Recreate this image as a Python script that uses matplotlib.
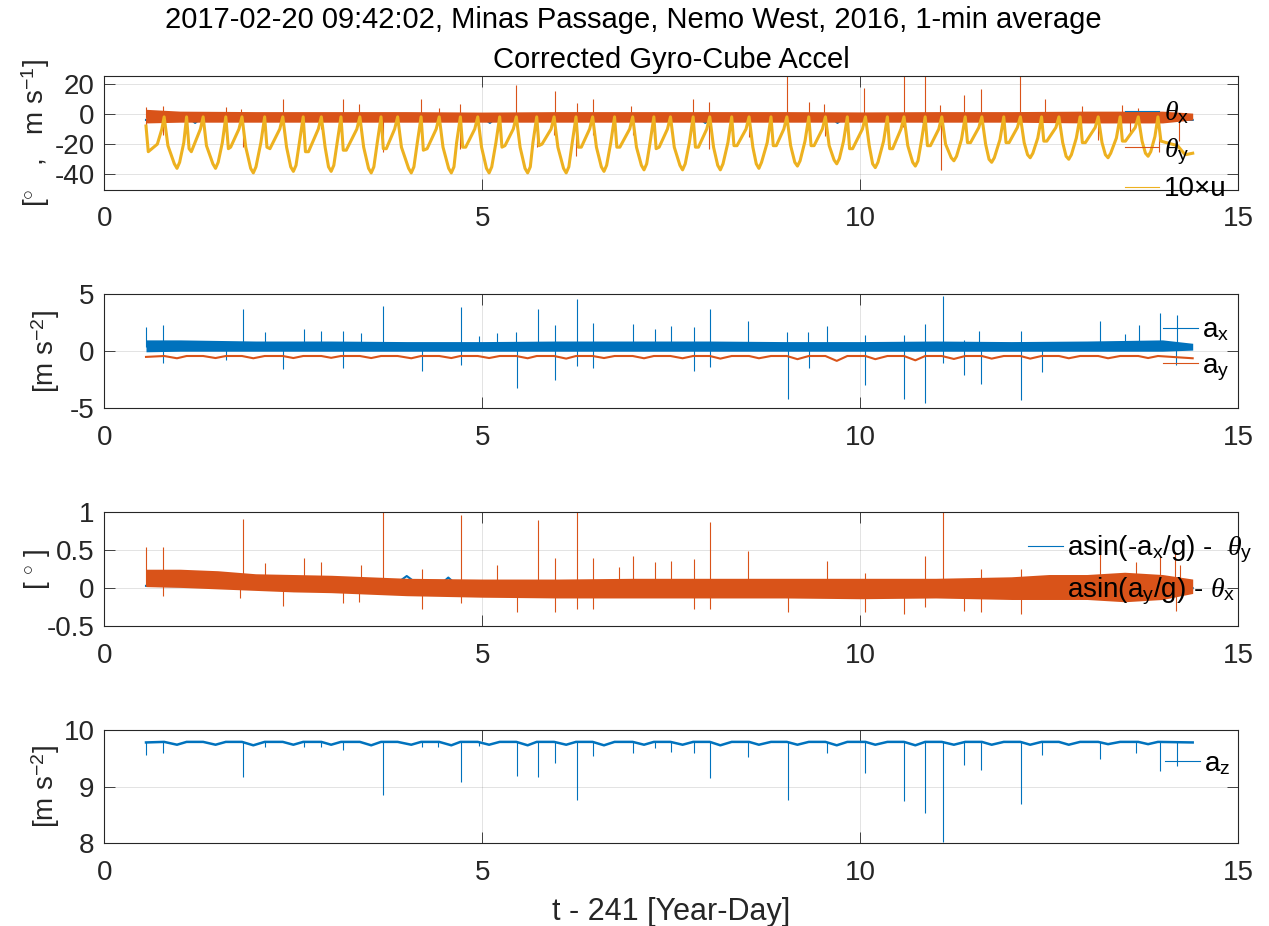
import numpy as np
import matplotlib
matplotlib.use("Agg")
import matplotlib.pyplot as plt
from matplotlib.lines import Line2D

plt.rcParams['font.family'] = ['Liberation Sans', 'DejaVu Sans']
plt.rcParams['mathtext.fontset'] = 'custom'
plt.rcParams['mathtext.rm'] = 'Liberation Sans'
plt.rcParams['mathtext.it'] = 'Liberation Serif:italic'
plt.rcParams['mathtext.bf'] = 'Liberation Sans:bold'
plt.rcParams['axes.unicode_minus'] = False

BLUE = '#0072BD'
ORANGE = '#D95319'
YELLOW = '#EDB120'
INK = '#262626'

# ---------------- data (t - 241, year-day) ----------------
t_start, t_end = 0.55, 14.40

# slack-water times (peaks of 10*u) and ebb-trough times
slack_t = [0.79, 1.087, 1.306, 1.606, 1.82, 2.12, 2.36, 2.63, 2.87, 3.13,
           3.38, 3.66, 3.88, 4.19, 4.43, 4.71, 4.94, 5.23, 5.45, 5.72,
           5.95, 6.24, 6.46, 6.75, 6.99, 7.27, 7.49, 7.79, 8.01, 8.30,
           8.53, 8.82, 9.03, 9.32, 9.54, 9.83, 10.07, 10.36, 10.58, 10.86,
           11.08, 11.39, 11.61, 11.90, 12.12, 12.40, 12.63, 12.91, 13.15, 13.44,
           13.68, 13.94]
ebb_t = [0.96, 1.47, 1.97, 2.50, 3.00, 3.53, 4.06, 4.59, 5.09, 5.60,
         6.11, 6.61, 7.14, 7.65, 8.15, 8.66, 9.17, 9.69, 10.20, 10.73,
         11.24, 11.74, 12.25, 12.76, 13.28, 13.81]

# 10 x u
u_t = [0.55, 0.58, 0.70, 0.76, 0.79,
       0.84, 0.96, 1.05, 1.087, 1.12, 1.15, 1.27, 1.306,
       1.35, 1.47, 1.56, 1.606, 1.64, 1.67, 1.78, 1.82,
       1.87, 1.97, 2.07, 2.12, 2.15, 2.19, 2.32, 2.36,
       2.41, 2.50, 2.58, 2.63, 2.66, 2.70, 2.83, 2.87,
       2.92, 3.00, 3.08, 3.13, 3.16, 3.20, 3.34, 3.38,
       3.43, 3.53, 3.61, 3.66, 3.69, 3.73, 3.84, 3.88,
       3.93, 4.06, 4.14, 4.19, 4.22, 4.27, 4.39, 4.43,
       4.48, 4.59, 4.66, 4.71, 4.74, 4.78, 4.90, 4.94,
       4.99, 5.09, 5.18, 5.23, 5.26, 5.30, 5.41, 5.45,
       5.50, 5.60, 5.67, 5.72, 5.75, 5.79, 5.91, 5.95,
       6.00, 6.11, 6.19, 6.24, 6.27, 6.31, 6.42, 6.46,
       6.51, 6.61, 6.70, 6.75, 6.78, 6.82, 6.95, 6.99,
       7.04, 7.14, 7.22, 7.27, 7.30, 7.34, 7.45, 7.49,
       7.54, 7.65, 7.74, 7.79, 7.82, 7.86, 7.97, 8.01,
       8.06, 8.15, 8.25, 8.30, 8.33, 8.37, 8.49, 8.53,
       8.58, 8.66, 8.77, 8.82, 8.85, 8.89, 8.99, 9.03,
       9.08, 9.17, 9.27, 9.32, 9.35, 9.39, 9.50, 9.54,
       9.59, 9.69, 9.78, 9.83, 9.86, 9.90, 10.03, 10.07,
       10.12, 10.20, 10.31, 10.36, 10.39, 10.43, 10.54, 10.58,
       10.63, 10.73, 10.81, 10.86, 10.89, 10.93, 11.04, 11.08,
       11.13, 11.24, 11.34, 11.39, 11.42, 11.46, 11.57, 11.61,
       11.66, 11.74, 11.85, 11.90, 11.93, 11.97, 12.08, 12.12,
       12.17, 12.25, 12.35, 12.40, 12.43, 12.47, 12.59, 12.63,
       12.68, 12.76, 12.86, 12.91, 12.94, 12.98, 13.11, 13.15,
       13.20, 13.28, 13.39, 13.44, 13.47, 13.51, 13.64, 13.68,
       13.73, 13.81, 13.90, 13.94,
       13.98, 14.05, 14.20, 14.30, 14.40]
u_v = [-8, -25, -20, -10, -2,
       -21, -36, -19, -2, -23, -25, -10, -2,
       -21, -36, -19, -2, -23, -22, -10, -2,
       -22, -39, -19, -2, -22, -23, -10, -2,
       -22, -38, -19, -2, -25, -25, -10, -2,
       -22, -38, -19, -2, -24, -24, -10, -2,
       -22, -39, -19, -2, -23, -23, -10, -2,
       -22, -39, -19, -2, -24, -23, -10, -2,
       -22, -39, -19, -2, -22, -22, -10, -2,
       -22, -39, -19, -2, -22, -21, -10, -2,
       -22, -39, -19, -2, -21, -20, -10, -2,
       -22, -39, -19, -2, -22, -22, -10, -2,
       -22, -38, -19, -2, -22, -22, -10, -2,
       -22, -37, -19, -2, -23, -22, -10, -2,
       -22, -37, -19, -2, -22, -22, -10, -2,
       -22, -37, -19, -2, -21, -21, -10, -2,
       -22, -36, -19, -2, -21, -21, -10, -2,
       -21, -34.5, -18, -2, -21, -21, -10, -2,
       -21, -33, -18, -2, -23, -23, -10, -2,
       -21, -35.5, -18, -2, -23, -23, -10, -2,
       -21, -34.5, -18, -2, -21, -21, -10, -2,
       -20, -31, -17, -2, -19, -19, -9, -2,
       -20, -32, -17, -2, -19, -19, -9, -2,
       -19, -29, -16, -2, -18, -18, -9, -2,
       -19, -30, -16, -2, -19, -19, -9, -2,
       -19, -29, -16, -2, -18, -18, -9, -2,
       -18, -28, -15, -2,
       -18, -19, -21, -27, -26]
# extra samples on either side of each ebb minimum (rounded trough bottoms)
u_trough_t = [0.925, 0.995, 1.435, 1.505, 1.935, 2.005, 2.465, 2.535, 2.965, 3.035,
              3.495, 3.565, 4.025, 4.095, 4.555, 4.625, 5.055, 5.125, 5.565, 5.635,
              6.075, 6.145, 6.575, 6.645, 7.105, 7.175, 7.615, 7.685, 8.115, 8.185,
              8.625, 8.695, 9.135, 9.205, 9.655, 9.725, 10.165, 10.235, 10.695, 10.765,
              11.205, 11.275, 11.705, 11.775, 12.215, 12.285, 12.725, 12.795, 13.245, 13.315,
              13.775, 13.845]
u_trough_v = [-33, -32, -33, -32, -36, -35, -35, -34, -35, -34,
              -36, -35, -36, -35, -36, -35, -36, -35, -36, -35,
              -36, -35, -35, -34, -34, -33, -34, -33, -34, -33,
              -33, -32, -32, -31, -30.5, -29.5, -33, -32, -32, -31,
              -29, -28, -30, -29, -27, -26, -28, -27, -27, -26,
              -26, -25]

# theta_x (blue), mostly under theta_y
thx_t = [0.55, 1.15, 1.2, 1.25, 5.05, 5.1, 5.15, 7.9, 7.95, 8.0, 9.65, 9.7, 9.75,
         10.8, 10.85, 10.9, 14.4]
thx_v = [-4.0, -4.0, -6.0, -4.0, -4.0, -6.0, -4.0, -4.0, -6.0, -4.0, -4.0, -6.0, -4.0,
         -4.0, -6.0, -4.0, -4.0]

# theta_y (orange) noise band and spikes
thy_t = [0.55, 1.0, 2.0, 3.0, 4.0, 5.0, 6.0, 7.0, 8.0, 9.0, 10.0, 11.0, 12.0, 13.0, 14.0, 14.4]
thy_hi = [3.0, 1.8, 1.5, 1.5, 1.5, 1.2, 1.5, 1.5, 1.5, 1.5, 1.3, 1.5, 1.5, 1.8, 1.8, 0.5]
thy_lo = [-6.0, -5.5, -5.5, -5.5, -5.5, -5.5, -5.5, -5.5, -5.5, -5.5, -5.5, -5.5, -5.5, -6.0, -6.0, -4.0]
thy_spk_t = [0.55, 0.78, 1.61, 1.81, 2.36, 3.16, 3.37, 4.19, 4.43, 4.71, 5.45, 5.96, 6.25, 6.46, 6.97,
             7.79, 8.00, 9.03, 9.32, 9.52, 10.05, 10.58, 10.86, 11.06, 11.37, 11.60, 12.12, 12.44,
             12.93, 13.47, 13.68,
             0.55, 0.78, 1.83, 2.87, 3.38, 3.68, 4.71, 5.73, 5.95, 6.24, 6.46, 7.00, 7.50, 8.00,
             8.53, 9.54, 10.57, 11.07, 13.15, 13.57, 13.95, 14.22]
thy_spk_v = [4.4, 5.5, 4.4, 3.5, 9.5, 9.5, 6.7, 10.0, 4.0, 6.7, 19.0, 15.0, 7.0, 9.5, 5.5,
             10.0, 8.0, 26.0, 8.0, 6.7, 17.0, 26.0, 26.0, 6.0, 12.7, 16.7, 26.0, 10.0,
             5.0, 6.0, 4.0,
             -11, -14, -22, -10, -9, -25.5, -23, -22, -14, -28, -14, -14, -12, -23,
             -15.5, -14.5, -9, -37, -17, -14, -25, -18]

# a_x (blue) noise band and spikes
ax_t = [0.55, 1.0, 2.0, 3.0, 4.0, 5.0, 6.0, 7.0, 8.0, 9.0, 10.0, 11.0, 12.0, 13.0, 14.0, 14.4]
ax_hi = [1.0, 1.0, 0.9, 0.9, 0.85, 0.85, 0.9, 0.9, 0.9, 0.85, 0.85, 0.9, 0.85, 0.9, 1.0, 0.7]
ax_lo = [-0.05, 0.0, 0.0, 0.0, 0.0, 0.0, 0.0, 0.0, 0.0, 0.0, 0.0, 0.0, 0.0, 0.0, 0.0, 0.1]
ax_spk_t = [0.55, 0.78, 1.84, 2.13, 2.64, 2.86, 3.16, 3.39, 3.68, 4.72, 4.95, 5.20, 5.45, 5.74,
            5.96, 6.25, 6.47, 7.00, 7.28, 7.50, 7.80, 8.01, 8.52, 9.03, 9.31, 9.56, 10.06,
            10.58, 10.86, 11.09, 11.38, 11.57, 12.13, 13.17, 13.50, 13.69, 13.97, 14.19,
            0.78, 1.61, 2.36, 3.16, 4.20, 4.72, 5.46, 5.96, 6.25, 6.47, 7.80, 8.01, 9.04,
            9.32, 10.06, 10.58, 10.86, 11.09, 11.38, 11.60, 12.13, 12.41, 14.18]
ax_spk_v = [2.1, 2.3, 3.7, 1.7, 2.0, 1.8, 1.8, 1.6, 4.0, 3.9, 1.3, 1.6, 1.7, 3.7,
            2.3, 4.6, 2.5, 2.4, 2.0, 2.2, 2.1, 3.7, 2.7, 1.7, 1.7, 2.2, 1.4,
            1.4, 2.4, 4.9, 1.0, 1.8, 1.8, 2.7, 1.5, 2.3, 3.4, 3.2,
            -1.0, -0.8, -1.6, -1.5, -1.7, -1.2, -3.2, -2.5, -1.3, -1.5, -1.7, -1.4, -4.2,
            -1.5, -3.0, -4.2, -4.6, -1.0, -2.1, -2.9, -4.3, -1.8, -1.2]

# a_y (orange): level at slack water and at each ebb trough
AY_SLACK = -0.42
ay_ebb = [-0.62, -0.60, -0.62, -0.60, -0.58, -0.60, -0.62, -0.60, -0.60, -0.62,
          -0.65, -0.60, -0.62, -0.62, -0.65, -0.62, -0.70, -0.85, -0.70, -0.80,
          -0.68, -0.65, -0.65, -0.62, -0.62, -0.60]
ay_ends = [-0.50, -0.62]

# asin(a/g) - theta residuals
res_t = [0.55, 1.0, 1.5, 2.0, 2.5, 3.0, 3.5, 4.0, 5.0, 6.0, 7.0, 8.0, 9.0, 10.0, 11.0,
         12.0, 12.5, 13.0, 13.5, 14.0, 14.4]
res_hi = [0.25, 0.25, 0.23, 0.19, 0.18, 0.17, 0.15, 0.13, 0.12, 0.12, 0.13, 0.13, 0.13,
          0.13, 0.13, 0.15, 0.18, 0.18, 0.21, 0.18, 0.12]
res_lo = [0.02, 0.01, -0.01, -0.03, -0.05, -0.06, -0.08, -0.10, -0.12, -0.13, -0.13, -0.13,
          -0.13, -0.14, -0.13, -0.15, -0.15, -0.15, -0.18, -0.15, -0.07]
resx_t = [0.55, 1.5, 3.0, 3.85, 4.0, 4.15, 4.45, 4.55, 4.65, 5.0, 7.2, 8.0, 10.0, 10.5, 14.4]
resx_v = [0.03, 0.02, 0.02, 0.05, 0.16, 0.05, 0.05, 0.14, 0.05, 0.00, 0.00, 0.00, -0.05, -0.05, 0.00]
res_spk_t = [0.55, 0.78, 1.84, 2.13, 2.64, 2.86, 3.39, 3.68, 4.20, 4.72, 5.20, 5.74, 5.96,
             6.25, 6.47, 6.81, 7.00, 7.28, 7.50, 7.80, 8.01, 8.52, 9.56, 10.06, 10.86,
             11.09, 11.60, 12.13, 13.17, 13.65, 13.97, 14.16, 14.23,
             0.78, 1.80, 2.36, 3.16, 3.37, 4.20, 4.72, 5.46, 5.96, 6.25, 6.47, 7.80, 8.01,
             9.04, 10.06, 10.58, 10.86, 11.38, 11.60, 12.13, 14.18]
res_spk_v = [0.55, 0.54, 0.92, 0.33, 0.40, 0.35, 0.30, 1.00, 0.25, 0.96, 0.30, 0.90, 0.40,
             1.00, 0.40, 0.28, 0.42, 0.35, 0.36, 0.38, 0.87, 0.49, 0.36, 0.20, 0.42,
             1.00, 0.25, 0.25, 0.46, 0.35, 0.42, 0.48, 0.30,
             -0.10, -0.13, -0.23, -0.20, -0.18, -0.27, -0.20, -0.31, -0.32, -0.28, -0.28,
             -0.28, -0.27, -0.32, -0.32, -0.34, -0.25, -0.30, -0.32, -0.34, -0.30]

# a_z: level at slack water and at each ebb trough, plus downward spikes
AZ_SLACK = 9.79
az_ebb = [9.74, 9.74, 9.73, 9.74, 9.74, 9.73, 9.74, 9.73, 9.74, 9.73, 9.74, 9.73, 9.74,
          9.74, 9.73, 9.74, 9.74, 9.73, 9.74, 9.73, 9.74, 9.74, 9.74, 9.74, 9.75, 9.75]
az_ends = [9.78, 9.78]
az_spk_t = [0.55, 0.78, 1.84, 2.13, 2.64, 2.86, 3.16, 3.68, 4.20, 4.41, 4.72, 4.95, 5.46,
            5.74, 5.96, 6.25, 6.47, 7.00, 7.28, 7.50, 7.80, 8.01, 8.52, 9.04, 9.56, 10.06,
            10.58, 10.86, 11.09, 11.38, 11.60, 12.13, 12.41, 13.17, 13.65, 13.97, 14.19]
az_spk_v = [9.56, 9.59, 9.18, 9.70, 9.70, 9.70, 9.65, 8.85, 9.70, 9.70, 9.09, 9.72, 9.19,
            9.18, 9.41, 8.76, 9.55, 9.59, 9.68, 9.62, 9.59, 9.16, 9.52, 8.76, 9.60, 9.25,
            8.75, 8.54, 8.02, 9.38, 9.29, 8.70, 9.56, 9.48, 9.60, 9.28, 9.36]


def tidal_series(slack_level, ebb_levels, ends):
    t = np.concatenate([[t_start], slack_t, ebb_t, [t_end]])
    v = np.concatenate([[ends[0]], np.full(len(slack_t), slack_level), ebb_levels, [ends[1]]])
    order = np.argsort(t)
    return t[order], v[order]


def merged(ta, va, tb, vb):
    t = np.concatenate([ta, tb])
    v = np.concatenate([va, vb])
    order = np.argsort(t, kind='stable')
    return t[order], v[order]


# ---------------- figure ----------------
fig = plt.figure(figsize=(12.69, 9.26), dpi=100)
left, width, height = 0.0823, 0.8933, 0.1226
bottoms = [0.7953, 0.5594, 0.3240, 0.0891]
axs = [fig.add_axes([left, b, width, height]) for b in bottoms]

TICK_FS = 20
LAB_FS = 20
LEG_FS = 20
SPIKE_LW = 0.8


def style(ax, ylim, yticks):
    ax.set_xlim(0, 15)
    ax.set_xticks([0, 5, 10, 15])
    ax.set_ylim(*ylim)
    ax.set_yticks(yticks)
    ax.grid(True, color=INK, alpha=0.15, lw=0.6)
    ax.set_axisbelow(True)
    ax.tick_params(direction='in', length=8, width=0.6, colors=INK,
                   top=True, right=True, labelsize=TICK_FS)
    ax.tick_params(axis='y', pad=7)
    ax.tick_params(axis='x', pad=12)
    for s in ax.spines.values():
        s.set_color(INK)
        s.set_linewidth(0.8)


def legend(ax, handles, labels, x, y, spacing):
    ax.legend(handles, labels, loc='center left', bbox_to_anchor=(x, y),
              frameon=False, fontsize=LEG_FS, borderpad=0, borderaxespad=0,
              handlelength=1.25, handletextpad=0.15, labelspacing=spacing)


# panel 1: tilt angles and current
ax = axs[0]
ax.plot(thx_t, thx_v, color=BLUE, lw=1.5, zorder=1.0)
ax.fill_between(thy_t, thy_lo, thy_hi, color=ORANGE, lw=0, zorder=1.1)
ax.vlines(thy_spk_t, -2.5, thy_spk_v, color=ORANGE, lw=SPIKE_LW, zorder=1.2)
uu_t, uu_v = merged(u_t, u_v, u_trough_t, u_trough_v)
ax.plot(uu_t, uu_v, color=YELLOW, lw=2.2, zorder=2.0)
style(ax, (-50, 25), [-40, -20, 0, 20])
ax.set_ylabel('[$^{\\circ}$   ,   m s$^{-1}$]', fontsize=LAB_FS, color=INK)
ax.yaxis.set_label_coords(-0.046, 0.5)
legend(ax, [Line2D([], [], color=c, lw=0.8) for c in (BLUE, ORANGE, YELLOW)],
       [r'$\theta_{\mathrm{x}}$', r'$\theta_{\mathrm{y}}$', '10×u'], 0.900, 0.34, 0.35)
ax.set_title('Corrected Gyro-Cube Accel', fontsize=21, color='black', pad=6)
fig.text(633 / 1269, 1 - 20 / 926,
         '2017-02-20 09:42:02, Minas Passage, Nemo West, 2016, 1-min average',
         fontsize=21, color='black', ha='center', va='center')

# panel 2: horizontal accelerations
ax = axs[1]
ax.fill_between(ax_t, ax_lo, ax_hi, color=BLUE, lw=0, zorder=1.0)
ax.vlines(ax_spk_t, 0.4, ax_spk_v, color=BLUE, lw=SPIKE_LW, zorder=1.1)
ay_t, ay_v = tidal_series(AY_SLACK, ay_ebb, ay_ends)
ax.plot(ay_t, ay_v, color=ORANGE, lw=1.5, zorder=2.0)
style(ax, (-5, 5), [-5, 0, 5])
ax.set_ylabel('[m s$^{-2}$]', fontsize=LAB_FS, color=INK)
ax.yaxis.set_label_coords(-0.037, 0.5)
legend(ax, [Line2D([], [], color=c, lw=0.8) for c in (BLUE, ORANGE)],
       [r'a$_{\mathrm{x}}$', r'a$_{\mathrm{y}}$'], 0.934, 0.51, 0.35)

# panel 3: accelerometer tilt minus gyro tilt
ax = axs[2]
ax.plot(resx_t, resx_v, color=BLUE, lw=1.5, zorder=1.0)
ax.fill_between(res_t, res_lo, res_hi, color=ORANGE, lw=0, zorder=1.1)
ax.vlines(res_spk_t, 0.03, res_spk_v, color=ORANGE, lw=SPIKE_LW, zorder=1.2)
style(ax, (-0.5, 1), [-0.5, 0, 0.5, 1])
ax.set_yticklabels(['-0.5', '0', '0.5', '1'])
ax.set_ylabel('[ $^{\\circ}$ ]', fontsize=LAB_FS, color=INK)
ax.yaxis.set_label_coords(-0.046, 0.5)
legend(ax, [Line2D([], [], color=c, lw=0.8) for c in (BLUE, ORANGE)],
       [r'asin(-a$_{\mathrm{x}}$/g) -  $\theta_{\mathrm{y}}$',
        r'asin(a$_{\mathrm{y}}$/g) - $\theta_{\mathrm{x}}$'], 0.815, 0.49, 0.35)

# panel 4: vertical acceleration
ax = axs[3]
az_t, az_v = tidal_series(AZ_SLACK, az_ebb, az_ends)
ax.plot(az_t, az_v, color=BLUE, lw=1.8, zorder=2.0)
ax.vlines(az_spk_t, 9.78, az_spk_v, color=BLUE, lw=SPIKE_LW, zorder=1.5)
style(ax, (8, 10), [8, 9, 10])
ax.set_ylabel('[m s$^{-2}$]', fontsize=LAB_FS, color=INK)
ax.yaxis.set_label_coords(-0.037, 0.5)
legend(ax, [Line2D([], [], color=BLUE, lw=0.8)], [r'a$_{\mathrm{z}}$'], 0.936, 0.70, 0.3)
ax.set_xlabel('t - 241 [Year-Day]', fontsize=22, color=INK, labelpad=8)

fig.savefig('out.png', dpi=100, facecolor='white')
